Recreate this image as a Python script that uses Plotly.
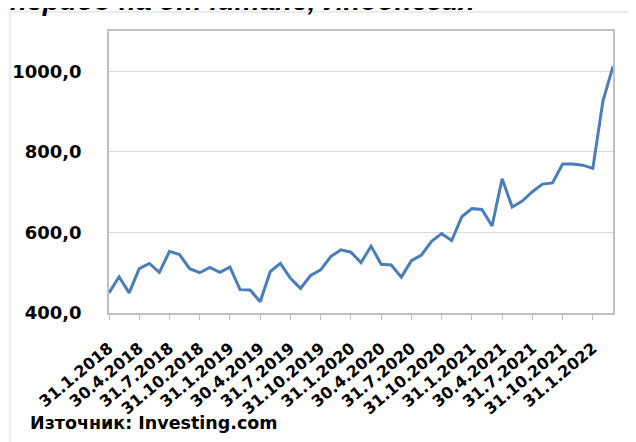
import plotly.graph_objects as go

dates = [
    "31.1.2018", "28.2.2018", "31.3.2018", "30.4.2018", "31.5.2018", "30.6.2018",
    "31.7.2018", "31.8.2018", "30.9.2018", "31.10.2018", "30.11.2018", "31.12.2018",
    "31.1.2019", "28.2.2019", "31.3.2019", "30.4.2019", "31.5.2019", "30.6.2019",
    "31.7.2019", "31.8.2019", "30.9.2019", "31.10.2019", "30.11.2019", "31.12.2019",
    "31.1.2020", "29.2.2020", "31.3.2020", "30.4.2020", "31.5.2020", "30.6.2020",
    "31.7.2020", "31.8.2020", "30.9.2020", "31.10.2020", "30.11.2020", "31.12.2020",
    "31.1.2021", "28.2.2021", "31.3.2021", "30.4.2021", "31.5.2021", "30.6.2021",
    "31.7.2021", "31.8.2021", "30.9.2021", "31.10.2021", "30.11.2021", "31.12.2021",
    "31.1.2022", "28.2.2022", "31.3.2022",
]
values = [
    450, 490, 450, 510, 523, 501, 553, 545, 510, 500, 513, 501,
    514, 458, 457, 428, 503, 523, 486, 461, 493, 507, 540, 557,
    551, 525, 566, 521, 519, 489, 530, 544, 578, 597, 580, 639,
    659, 657, 616, 733, 663, 678, 701, 720, 723, 770, 770, 767,
    759, 926, 1012,
]
tick_labels = dates[::3]
title_text = "период на отчитане, Индонезия"
source_text = "Източник: Investing.com"

fig = go.Figure(
    go.Scatter(x=dates, y=values, mode="lines",
               line=dict(color="#4A7EBB", width=3))
)

fig.update_layout(
    width=636, height=442,
    margin=dict(l=101, r=31, t=23, b=137, autoexpand=False),
    plot_bgcolor="white", paper_bgcolor="white",
    showlegend=False,
    separators=",.",
)

fig.update_xaxes(
    type="category", range=[0, 50], automargin=False,
    tickmode="array", tickvals=tick_labels, ticktext=tick_labels,
    tickangle=-40, ticks="outside", ticklen=5, tickcolor="#BFBFBF",
    ticklabelstandoff=13,
    showline=True, linecolor="#BFBFBF", linewidth=1.5, mirror=True,
    showgrid=False,
    tickfont=dict(family="DejaVu Sans", size=16, color="black", weight="bold"),
)
fig.update_yaxes(
    range=[400, 1100], tick0=400, dtick=200, tickformat=".1f", automargin=False,
    showgrid=True, gridcolor="#D9D9D9", gridwidth=1,
    showline=True, linecolor="#BFBFBF", linewidth=1.5, mirror=True,
    ticks="", ticklabelstandoff=22, zeroline=False,
    tickfont=dict(family="DejaVu Sans", size=18, color="black", weight="bold"),
)

fig.add_shape(type="rect", xref="paper", yref="paper",
              x0=-0.1964, x1=1.08, y0=-0.55, y1=1.0674,
              line=dict(color="#D9D9D9", width=1), layer="below")

fig.add_annotation(text=title_text, xref="paper", yref="paper",
                   x=-0.2004, y=1.1082, xanchor="left", yanchor="middle",
                   showarrow=False,
                   font=dict(family="Liberation Sans", size=28, color="black",
                             weight="bold", style="italic"))
fig.add_annotation(text=source_text, xref="paper", yref="paper",
                   x=-0.1607, y=-0.390, xanchor="left", yanchor="middle",
                   showarrow=False,
                   font=dict(family="DejaVu Sans", size=17.5, color="black", weight="bold"))

fig.write_html("out.html")
